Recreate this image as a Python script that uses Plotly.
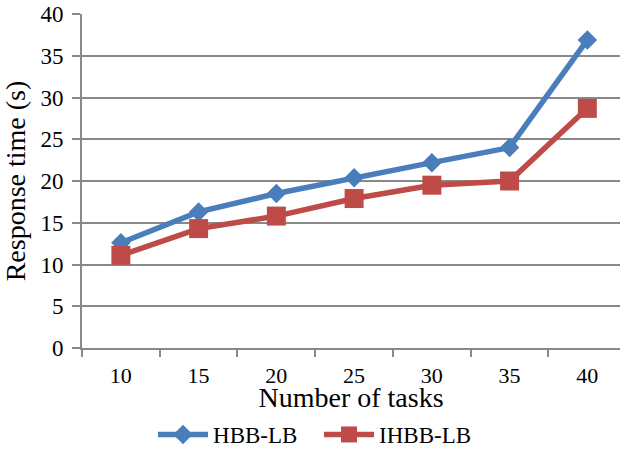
import plotly.graph_objects as go

tasks = ["10", "15", "20", "25", "30", "35", "40"]
hbb_lb = [12.6, 16.3, 18.5, 20.4, 22.2, 24.0, 36.9]
ihbb_lb = [11.1, 14.3, 15.8, 17.9, 19.5, 20.0, 28.7]
y_ticks = [0, 5, 10, 15, 20, 25, 30, 35, 40]

FONT = "Liberation Serif, Times New Roman, serif"
GRID = "#898989"

fig = go.Figure()
fig.add_trace(go.Scatter(
    x=tasks, y=hbb_lb, name="HBB-LB", mode="lines+markers",
    line=dict(color="#4A7EBB", width=5.5),
    marker=dict(symbol="diamond", size=15, color="#4A7EBB"),
))
fig.add_trace(go.Scatter(
    x=tasks, y=ihbb_lb, name="IHBB-LB", mode="lines+markers",
    line=dict(color="#BE4B48", width=5.5),
    marker=dict(symbol="square", size=19, color="#BE4B48"),
))

# figure is a bit taller than the window so the legend can sit near the bottom edge
fig.update_layout(
    width=620, height=456,
    margin=dict(l=82, r=0, t=14, b=108, autoexpand=False),
    paper_bgcolor="white", plot_bgcolor="white",
    font=dict(family=FONT, size=23, color="black"),
    showlegend=True,
    legend=dict(orientation="h", xref="container", x=0.2468, xanchor="left",
                yref="container", y=0.0, yanchor="bottom",
                font=dict(size=23), itemwidth=50, tracegroupgap=0,
                entrywidth=101),
    xaxis=dict(
        type="category", range=[-0.5, 6.42], automargin=False,
        tickson="boundaries", ticks="outside", ticklen=7, tickwidth=1.5,
        tickcolor=GRID, showline=True, linecolor=GRID, linewidth=2,
        showgrid=False, zeroline=False, ticklabelstandoff=7,
        title=dict(text="Number of tasks", standoff=3),
        tickfont=dict(size=22),
    ),
    yaxis=dict(
        range=[0, 40], tickvals=y_ticks, ticks="outside", ticklen=8,
        tickwidth=1.5, tickcolor=GRID, automargin=False, ticklabelstandoff=4,
        ticklabeloverflow="allow",
        showline=True, linecolor=GRID, linewidth=2,
        showgrid=True, gridcolor=GRID, gridwidth=1.5, zeroline=False,
        title=dict(text="Response time (s)", standoff=15),
        tickfont=dict(size=23),
    ),
)

fig.write_html("out.html", config={"displayModeBar": False},
               post_script="document.body.style.margin='0';document.body.style.overflow='hidden';")
